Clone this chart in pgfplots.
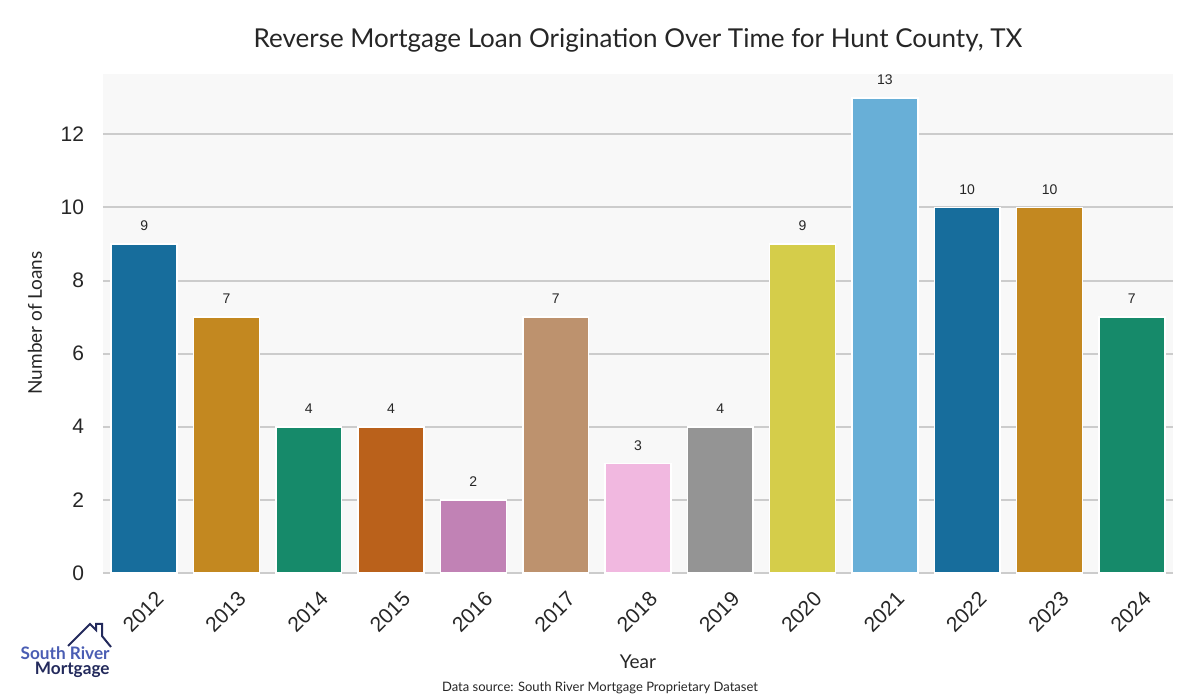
\documentclass[border=0pt]{standalone}
\usepackage{pgfplots}
\pgfplotsset{compat=1.18}
\usepackage{fontspec}
\setmainfont{Liberation Sans}
\newfontfamily\titlefont{Lato}
\definecolor{c0}{HTML}{176D9C}
\definecolor{c1}{HTML}{C38820}
\definecolor{c2}{HTML}{168A6A}
\definecolor{c3}{HTML}{BA611B}
\definecolor{c4}{HTML}{C182B5}
\definecolor{c5}{HTML}{BD926E}
\definecolor{c6}{HTML}{F1B8E0}
\definecolor{c7}{HTML}{949494}
\definecolor{c8}{HTML}{D5CD4A}
\definecolor{c9}{HTML}{68AFD7}
\definecolor{bg}{HTML}{F8F8F8}
\definecolor{gridc}{HTML}{CCCCCC}
\definecolor{txt}{HTML}{262626}
\definecolor{logoblue}{HTML}{4A5DB3}
\definecolor{logonavy}{HTML}{232A5C}
\begin{document}
\begin{tikzpicture}
\path[use as bounding box] (0,0) rectangle (600pt,350pt);
\begin{axis}[
  at={(51.5pt,63.5pt)}, anchor=south west,
  width=535pt, height=249.5pt, scale only axis,
  xmin=-0.5, xmax=12.5, ymin=0, ymax=13.65,
  axis background/.style={fill=bg},
  axis line style={draw=none},
  ybar, bar width=0.8, bar shift=0pt,
  xtick={0,...,12},
  xticklabels={2012,2013,2014,2015,2016,2017,2018,2019,2020,2021,2022,2023,2024},
  ytick={0,2,4,6,8,10,12},
  major tick length=0pt,
  ymajorgrids, grid style={draw=gridc, line width=1pt},
  tick label style={font=\fontsize{10.5pt}{12pt}\selectfont, text=txt},
  /pgf/number format/assume math mode=true,
  xticklabel style={anchor=center, yshift=-19.5pt, xshift=-0.5pt, rotate=45},
  yticklabel style={xshift=-6pt},
  nodes near coords,
  every node near coord/.append style={font=\fontsize{7pt}{8pt}\selectfont, text=txt, anchor=center, yshift=9pt},
  every axis plot/.append style={draw=white, line width=0.75pt},
  clip=false,
]
\addplot[fill=c0] coordinates {(0,9)};
\addplot[fill=c1] coordinates {(1,7)};
\addplot[fill=c2] coordinates {(2,4)};
\addplot[fill=c3] coordinates {(3,4)};
\addplot[fill=c4] coordinates {(4,2)};
\addplot[fill=c5] coordinates {(5,7)};
\addplot[fill=c6] coordinates {(6,3)};
\addplot[fill=c7] coordinates {(7,4)};
\addplot[fill=c8] coordinates {(8,9)};
\addplot[fill=c9] coordinates {(9,13)};
\addplot[fill=c0] coordinates {(10,10)};
\addplot[fill=c1] coordinates {(11,10)};
\addplot[fill=c2] coordinates {(12,7)};
\end{axis}
\node[font=\titlefont\fontsize{13pt}{15pt}\selectfont, text=txt] at (319pt,330pt) {Reverse Mortgage Loan Origination Over Time for Hunt County, TX};
\node[font=\titlefont\fontsize{9.5pt}{11pt}\selectfont, text=txt, rotate=90] at (17.5pt,188.5pt) {Number of Loans};
\node[font=\titlefont\fontsize{9.5pt}{11pt}\selectfont, text=txt] at (319pt,19pt) {Year};
\node[font=\titlefont\fontsize{6.5pt}{8pt}\selectfont, text=txt] at (300pt,6pt) {Data source: South River Mortgage Proprietary Dataset};
% logo
\draw[logonavy, line width=1pt, line join=miter] (34pt,27pt)--(45pt,38pt)--(48pt,35pt)--(48pt,38pt)--(51pt,38pt)--(51pt,32pt)--(55.5pt,26.5pt);
\node[font=\titlefont\bfseries\fontsize{8.6pt}{9pt}\selectfont, text=logoblue, anchor=east, inner sep=0pt] at (55pt,23.5pt) {South River};
\node[font=\titlefont\bfseries\fontsize{8.6pt}{9pt}\selectfont, text=logonavy, anchor=east, inner sep=0pt] at (55pt,15.3pt) {Mortgage};
\end{tikzpicture}
\end{document}
